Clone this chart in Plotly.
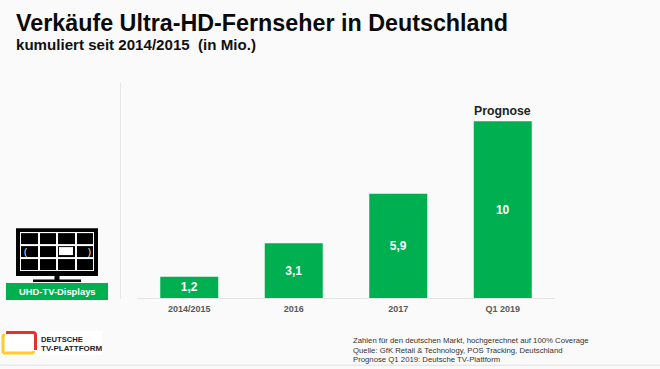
import plotly.graph_objects as go

categories = ["2014/2015", "2016", "2017", "Q1 2019"]
values = [1.2, 3.1, 5.9, 10]
value_labels = ["<b>1,2</b>", "<b>3,1</b>", "<b>5,9</b>", "<b>10</b>"]
forecast_label = "Prognose"
title = "Verkäufe Ultra-HD-Fernseher in Deutschland"
subtitle = "kumuliert seit 2014/2015  (in Mio.)"
notes = [
    "Zahlen für den deutschen Markt, hochgerechnet auf 100% Coverage",
    "Quelle: GfK Retail & Technology, POS Tracking, Deutschland",
    "Prognose Q1 2019: Deutsche TV-Plattform",
]

W, H = 660, 369
L, R, T, B = 137, 555, 85.6, 298
GREEN = "#00AF50"
BG = "#FAFAFA"
FONT = "Liberation Sans"

def px(x):
    return (x - L) / (R - L)

def py(y):
    return (B - y) / (B - T)

fig = go.Figure(go.Bar(
    x=categories, y=values, width=0.555,
    marker=dict(color=GREEN, line=dict(width=0)),
    text=value_labels, textposition="inside", insidetextanchor="middle",
    textangle=0, constraintext="none",
    textfont=dict(family=FONT, size=12, color="white"),
    hoverinfo="skip",
))

shapes = []
def rect(x0, y0, x1, y1, color, layer="above"):
    shapes.append(dict(type="rect", xref="paper", yref="paper",
                       x0=px(x0), x1=px(x1), y0=py(y0), y1=py(y1),
                       fillcolor=color, line=dict(width=0), layer=layer))
def line(x0, y0, x1, y1, color, width=1, layer="below"):
    shapes.append(dict(type="line", xref="paper", yref="paper",
                       x0=px(x0), x1=px(x1), y0=py(y0), y1=py(y1),
                       line=dict(color=color, width=width), layer=layer))

# vertical rule, bottom rule and axis baseline
line(120.5, 82, 120.5, 299, "#E6E6E6", 1)
line(137, 298.5, 555, 298.5, "#E4E4E4", 1)
line(0, 365.5, 660, 365.5, "#E8E8E8", 1.5)

# TV icon
rect(16, 228, 98, 276, "#000000")
rect(20, 232, 94, 271, "#FFFFFF")
cx = [(21, 38), (40, 56), (58, 75), (77, 93)]
cy = [(233, 244), (246, 257), (259, 270)]
for x0, x1 in cx:
    for y0, y1 in cy:
        rect(x0, y0, x1, y1, "#000000")
rect(59, 247, 73, 255, "#FFFFFF")
rect(54.5, 276, 59.5, 280, "#000000")
rect(33, 279.5, 81, 282, "#000000")

# green label
rect(6, 283, 108, 300, GREEN)

# logo
rect(4, 331, 102, 355, "#FFFFFF", "below")
shapes.append(dict(type="path", xref="paper", yref="paper", layer="above",
    path=f"M {px(3)} {py(353)} L {px(32)} {py(353)} Q {px(33.5)} {py(353)} {px(33.5)} {py(351)}",
    line=dict(color="#FFCC29", width=3)))
shapes.append(dict(type="path", xref="paper", yref="paper", layer="above",
    path=f"M {px(3)} {py(353)} L {px(3)} {py(337)} Q {px(3)} {py(335)} {px(5)} {py(335)}",
    line=dict(color="#FFCC29", width=3)))
shapes.append(dict(type="path", xref="paper", yref="paper", layer="above",
    path=f"M {px(6)} {py(332.5)} L {px(33)} {py(332.5)} Q {px(35.5)} {py(332.5)} {px(35.5)} {py(335)} L {px(35.5)} {py(350)}",
    line=dict(color="#E5332A", width=3)))

annotations = []
def text(x, y, s, size, color="#000000", bold=False, anchor="left"):
    annotations.append(dict(xref="paper", yref="paper", x=px(x), y=py(y),
                            text=f"<b>{s}</b>" if bold else s, showarrow=False,
                            xanchor=anchor, yanchor="middle", align=anchor,
                            borderpad=0, borderwidth=0,
                            font=dict(family=FONT, size=size, color=color)))

text(16, 22, title, 23.3, "#0A0A0A", True)
text(16, 44.5, subtitle, 15.1, "#111111", True)
text(57, 291.5, "UHD-TV-Displays", 9.4, "#FFFFFF", True, "center")
text(502.5, 110.5, forecast_label, 12.3, "#222222", True, "center")
text(40.5, 340, "DEUTSCHE", 7.6, "#222222", True)
text(40.5, 349, "TV-PLATTFORM", 8, "#222222", True)
text(25, 251.5, "(", 9, "#FFFFFF", False, "center")
text(89, 251.5, ")", 9, "#FFFFFF", False, "center")
for i, n in enumerate(notes):
    text(353, 341 + i * 9.5, n, 7.75, "#333333")

fig.update_layout(
    width=W, height=H, autosize=False,
    margin=dict(l=L, r=W - R, t=T, b=H - B, pad=0),
    paper_bgcolor=BG, plot_bgcolor="rgba(0,0,0,0)",
    showlegend=False, shapes=shapes, annotations=annotations,
    xaxis=dict(showgrid=False, zeroline=False, showline=False, ticks="",
               tickfont=dict(family=FONT, size=9, color="#595959", weight="bold"),
               ticklabelstandoff=4),
    yaxis=dict(range=[0, 12], visible=False, showgrid=False, zeroline=False),
    font=dict(family=FONT),
)
fig.write_html("out.html", config={"displayModeBar": False},
               post_script="document.body.style.margin='0';document.documentElement.style.overflow='hidden';")
